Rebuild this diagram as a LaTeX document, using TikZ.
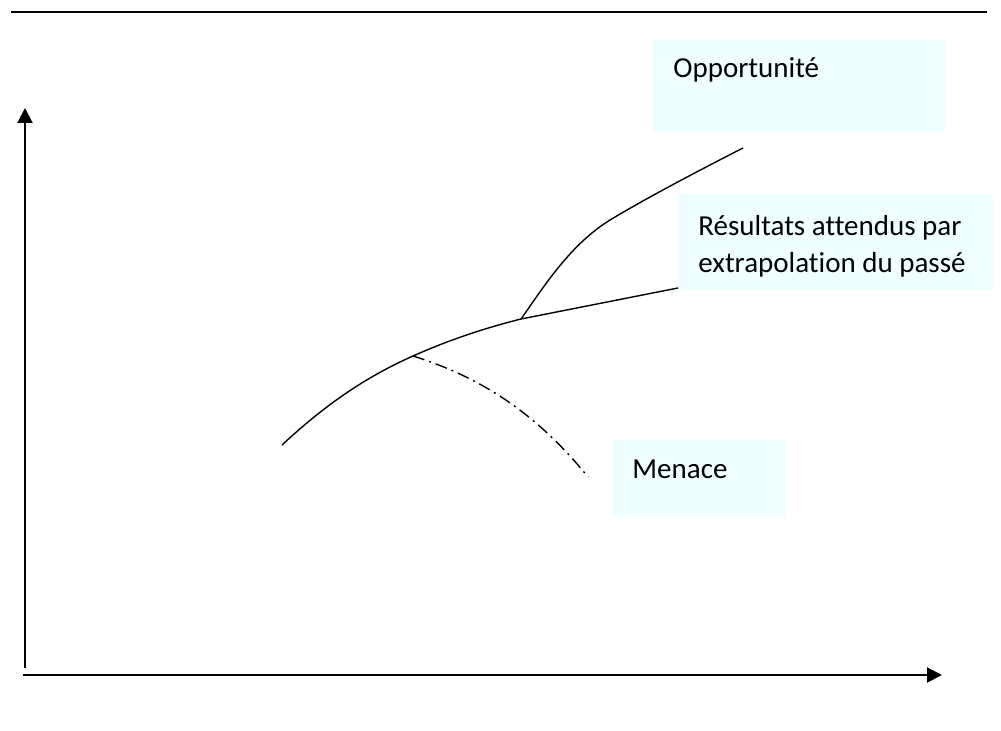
\documentclass[tikz,border=0pt]{standalone}
\usepackage{fontspec}
\setmainfont{Carlito}[Ligatures=NoCommon]
\usepackage{tikz}
\usetikzlibrary{arrows.meta,positioning}
\definecolor{boxcyan}{RGB}{239,255,255}

\begin{document}
\begin{tikzpicture}[x=0.5pt,y=-0.5pt,
		label box/.style={fill=boxcyan,anchor=north west,inner xsep=10pt,inner ysep=0pt,align=flush left,font=\fontsize{14.5}{18.6}\selectfont},
		axis/.style={line width=1pt,-{Triangle[length=7.5pt,width=7.5pt]}},
		trend/.style={line width=0.7pt},
		threat/.style={line width=0.7pt,dash pattern=on 6pt off 2.5pt on 1pt off 2.5pt}]
	\useasboundingbox (0,0) rectangle (1001,731);

	% top rule
	\coordinate	(rule_l)	at (11,12);
	\coordinate	(rule_r)	at (987,12);
	\draw[line width=1pt]	(rule_l) -- (rule_r);

	% axes
	\coordinate	(y_foot)	at (25,668);
	\coordinate	(y_tip)		at (25,108);
	\coordinate	(x_foot)	at (23,675);
	\coordinate	(x_tip)		at (942,675);
	\draw[axis]	(y_foot) -- (y_tip);
	\draw[axis]	(x_foot) -- (x_tip);

	% labels
	\node[label box,text width=126pt,text height=18.5pt,text depth=27.5pt]		(opp)	at (653,40)		{Opportunité};
	\node[label box,text width=137.5pt,text height=20.5pt,text depth=27.5pt]	(res)	at (678,194)	{Résultats attendus par\\extrapolation du passé};
	\node[label box,text width=67pt,text height=19pt,text depth=19.5pt]		(men)	at (612,440)	{Menace};

	% curves
	\coordinate	(start)		at (282,445);
	\coordinate	(fork)		at (413,356);
	\coordinate	(branch)	at (521,319);
	\coordinate	(res_end)	at (678,288);
	\coordinate	(opp_end)	at (743,148);
	\coordinate	(men_end)	at (588,477);

	\draw[trend]	(start) .. controls (327,403) and (368,376) .. (fork)
					.. controls (449,340) and (485,328) .. (branch) -- (res_end);
	\draw[trend]	(branch) .. controls (545,285) and (570,245) .. (610,220)
					.. controls (650,196) and (700,170) .. (opp_end);
	\draw[threat]	(fork) .. controls (470,374) and (530,405) .. (men_end);
\end{tikzpicture}
\end{document}
